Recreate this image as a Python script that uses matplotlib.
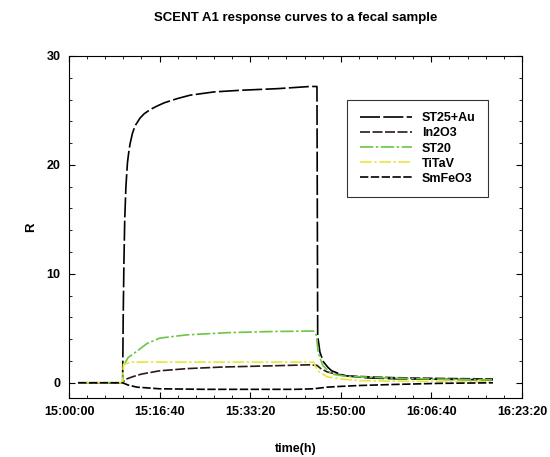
import matplotlib
matplotlib.use("Agg")
from matplotlib import pyplot as plt
from matplotlib.ticker import MultipleLocator, FuncFormatter

plt.rcParams['font.family'] = ['Liberation Sans', 'DejaVu Sans']

# time in seconds after 15:00:00
t_st25 = [100, 592, 598, 606, 615, 628, 645, 660, 673, 700, 730, 784, 830, 900, 971, 1050, 1200, 1336, 1600, 1887,
          2300, 2660, 2737,
          2737, 2745, 2770, 2810, 2860, 2900, 3040, 3300, 3600, 4100, 4680]
r_st25 = [0, 0, 6.0, 11.0, 15.0, 18.0, 20.2, 21.2, 21.9, 22.9, 23.6, 24.3, 24.7, 25.1, 25.4, 25.7, 26.1, 26.4, 26.7,
          26.85, 27.0, 27.2, 27.2,
          27.2, 4.3, 2.8, 1.9, 1.4, 1.1, 0.65, 0.45, 0.37, 0.32, 0.27]

t_in2o3 = [100, 592, 620, 700, 800, 1000, 1300, 1700, 2200, 2650, 2737, 2780, 2850, 2950, 3100, 3300, 3600, 4100, 4680]
r_in2o3 = [0, 0, 0.3, 0.55, 0.8, 1.1, 1.3, 1.45, 1.55, 1.65, 1.6, 1.3, 1.0, 0.8, 0.62, 0.55, 0.47, 0.4, 0.35]

t_st20 = [100, 592, 600, 650, 750, 860, 1000, 1300, 1750, 2200, 2660, 2700, 2730, 2750, 2800, 2900, 3050, 3200, 3600,
          4100, 4680]
r_st20 = [0, 0, 1.5, 2.3, 2.9, 3.6, 4.1, 4.4, 4.6, 4.7, 4.75, 4.75, 4.4, 2.8, 1.6, 0.8, 0.6, 0.55, 0.42, 0.33, 0.27]

t_titav = [100, 592, 600, 700, 1500, 2300, 2700, 2720, 2760, 2850, 3000, 3200, 3600, 4100, 4680]
r_titav = [0, 0, 1.7, 1.9, 1.9, 1.9, 1.9, 1.5, 1.0, 0.55, 0.35, 0.2, 0.15, 0.12, 0.1]

t_smfeo3 = [100, 592, 650, 750, 1000, 1500, 2000, 2500, 2700, 2850, 3000, 3200, 3600, 4100, 4680]
r_smfeo3 = [0, 0, -0.2, -0.4, -0.55, -0.6, -0.6, -0.6, -0.55, -0.4, -0.33, -0.25, -0.15, -0.05, 0]

series = [
    ("ST25+Au", t_st25, r_st25, "black", (0, (12, 2))),
    ("In2O3", t_in2o3, r_in2o3, "#2a1a1a", (0, (6, 1.5))),
    ("ST20", t_st20, r_st20, "#6cc644", (0, (8, 1.5, 1.5, 1.5))),
    ("TiTaV", t_titav, r_titav, "#e6e63c", (0, (7, 1.5, 1.5, 1.5))),
    ("SmFeO3", t_smfeo3, r_smfeo3, "black", (0, (5, 1.5))),
]


def hms(x, pos):
    s = int(round(x)) + 15 * 3600
    return "%02d:%02d:%02d" % (s // 3600, (s % 3600) // 60, s % 60)


fig = plt.figure(figsize=(5.5, 4.57), dpi=100)
ax = fig.add_axes([0.1255, 0.129, 0.8235, 0.7485])

for name, t, r, col, ls in series:
    ax.plot(t, r, color=col, linestyle=ls, linewidth=1.2, label=name)

ax.set_xlim(0, 5000)
ax.set_ylim(-1.4, 30)
ax.xaxis.set_major_locator(MultipleLocator(1000))
ax.xaxis.set_minor_locator(MultipleLocator(200))
ax.yaxis.set_major_locator(MultipleLocator(10))
ax.yaxis.set_minor_locator(MultipleLocator(2))
ax.xaxis.set_major_formatter(FuncFormatter(hms))
ax.tick_params(which='both', direction='in', top=True, right=True, labelsize=9)
ax.tick_params(which='major', length=4, width=0.8, pad=6)
ax.tick_params(which='minor', length=2, width=0.6)
for lab in ax.get_xticklabels() + ax.get_yticklabels():
    lab.set_fontweight('bold')
for sp in ax.spines.values():
    sp.set_linewidth(0.8)

ax.set_title("SCENT A1 response curves to a fecal sample", fontsize=9.5, fontweight='bold', pad=25)
ax.set_xlabel("time(h)", fontsize=9, fontweight='bold', labelpad=18)
ax.set_ylabel("R", fontsize=9.5, fontweight='bold', labelpad=7)

leg = ax.legend(loc='upper left', bbox_to_anchor=(0.6, 0.89), frameon=True,
                fancybox=False, edgecolor='black', handlelength=4.2, borderpad=1.0,
                labelspacing=0.25, prop={'weight': 'bold', 'size': 9})
leg.get_frame().set_linewidth(0.8)

fig.savefig("out.png", dpi=100)
